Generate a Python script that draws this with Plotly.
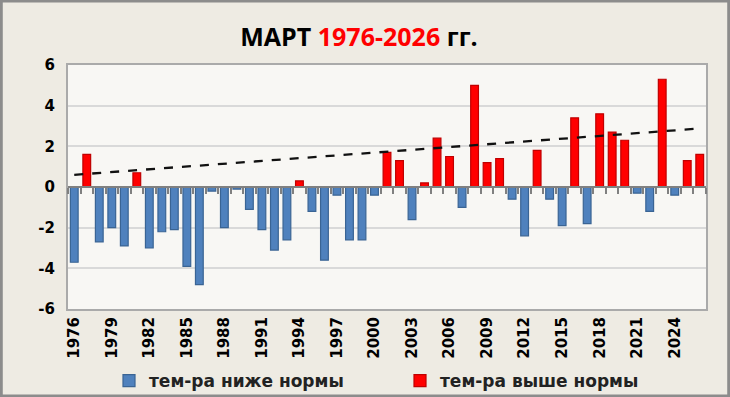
import numpy as np
import plotly.graph_objects as go

years = list(range(1976, 2027))
anomaly = [
    -3.7, 1.6, -2.7, -2.0, -2.9, 0.7, -3.0, -2.2, -2.1, -3.9,
    -4.8, -0.2, -2.0, -0.1, -1.1, -2.1, -3.1, -2.6, 0.3, -1.2,
    -3.6, -0.4, -2.6, -2.6, -0.4, 1.7, 1.3, -1.6, 0.2, 2.4,
    1.5, -1.0, 5.0, 1.2, 1.4, -0.6, -2.4, 1.8, -0.6, -1.9,
    3.4, -1.8, 3.6, 2.7, 2.3, -0.3, -1.2, 5.3, -0.4, 1.3,
    1.6,
]
below = [v if v < 0 else None for v in anomaly]
above = [v if v > 0 else None for v in anomaly]
tick_years = list(range(1976, 2025, 3))
y_ticks = [-6, -4, -2, 0, 2, 4, 6]

# linear trend fitted to the "above normal" series (blanks skipped), as in the original
px_ = [y for y, v in zip(years, anomaly) if v > 0]
py_ = [v for v in anomaly if v > 0]
coef = np.polyfit(px_, py_, 1)
trend = list(np.polyval(coef, years))

W, H = 730, 397
ML, MR, MT, MB = 68, 24, 65, 88
pw, ph = W - ML - MR, H - MT - MB

FONT = "DejaVu Sans"
TFONT = "Open Sans"
fig = go.Figure()
fig.add_trace(go.Bar(x=years, y=below, name="<b>тем-ра ниже нормы</b>", width=0.62,
                     marker=dict(color="#4f81bd", line=dict(color="#3a6494", width=1.2))))
fig.add_trace(go.Bar(x=years, y=above, name="<b>тем-ра выше нормы</b>", width=0.62,
                     marker=dict(color="#ff0000", line=dict(color="#c00000", width=1.2))))
fig.add_trace(go.Scatter(x=years, y=trend, mode="lines", showlegend=False,
                         line=dict(color="#111111", width=2.3, dash="dash"), xaxis="x2"))

boundaries = [y - 0.5 for y in years] + [years[-1] + 0.5]
xr = [years[0] - 0.5, years[-1] + 0.5]

fig.update_layout(
    width=W, height=H,
    margin=dict(l=ML, r=MR, t=MT, b=MB, autoexpand=False),
    paper_bgcolor="#eeebe3", plot_bgcolor="#f8f7f4",
    barmode="overlay",
    font=dict(family=FONT, color="#000000"),
    title=dict(text="<b>МАРТ <span style='color:#ff0000'>1976-2026</span> гг.</b>",
               x=359 / W, xanchor="center", y=1 - 37 / H, yanchor="middle",
               font=dict(size=25, family=TFONT, color="#000000")),
    xaxis=dict(range=xr, tickmode="array", tickvals=tick_years,
               ticktext=["<b>%d</b>" % t for t in tick_years], tickangle=-90,
               tickfont=dict(size=15, family=FONT, color="#000"),
               showgrid=False, zeroline=False, ticks="", automargin=False,
               showline=True, linecolor="#aaaaaa", linewidth=2, mirror=True),
    xaxis2=dict(range=xr, overlaying="x", anchor="free", position=0.5,
                matches="x", tickmode="array", tickvals=boundaries, automargin=False,
                showticklabels=False, ticks="outside", ticklen=6, tickwidth=2,
                tickcolor="#808080", showline=True, linecolor="#808080",
                linewidth=2, showgrid=False, zeroline=False),
    xaxis3=dict(range=xr, overlaying="x", anchor="free", position=0.5,
                matches="x", tickmode="array", tickvals=boundaries, automargin=False,
                showticklabels=False, ticks="inside", ticklen=4, tickwidth=2,
                tickcolor="#808080", showline=False, showgrid=False, zeroline=False),
    yaxis=dict(range=[-6, 6], tickmode="array", tickvals=y_ticks,
               ticktext=["<b>%d</b>" % t for t in y_ticks],
               tickfont=dict(size=15, family=FONT, color="#000"),
               showgrid=True, gridcolor="#d9d9d9", gridwidth=1.5, automargin=False,
               zeroline=False, ticks="", ticklabelstandoff=8,
               showline=True, linecolor="#aaaaaa", linewidth=2, mirror=True),
    legend=dict(orientation="h", xref="container", yref="container",
                x=109 / W, xanchor="left",
                y=(H - 381) / H, yanchor="middle",
                entrywidth=246, bgcolor="rgba(0,0,0,0)",
                font=dict(size=17, family=FONT, color="#222")),
    showlegend=True,
)

# outer chart frame
fig.add_shape(type="rect", xref="paper", yref="paper",
              x0=-ML / pw + 0.002, x1=1 + MR / pw - 0.002,
              y0=-MB / ph + 0.004, y1=1 + MT / ph - 0.004,
              line=dict(color="#8c8c8c", width=3), layer="below")

fig.write_html("out.html", config={"displayModeBar": False},
               post_script="document.body.style.margin='0';")
